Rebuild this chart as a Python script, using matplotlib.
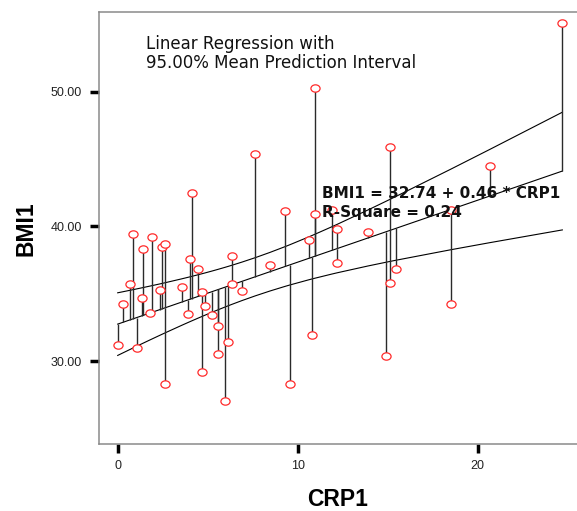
import numpy as np
import matplotlib
matplotlib.use("Agg")
import matplotlib.pyplot as plt
from matplotlib.path import Path
from matplotlib.transforms import Affine2D

# ---- data ----
crp1 = [0.0, 0.3, 0.7, 0.87, 1.06, 1.33, 1.42, 1.8, 1.9, 2.35, 2.44, 2.65, 2.63,
        3.56, 3.92, 4.0, 4.1, 4.48, 4.67, 4.67, 4.85, 5.22, 5.59, 5.59, 5.96,
        6.15, 6.33, 6.33, 6.9, 7.63, 8.46, 9.3, 9.57, 10.6, 10.78, 10.94, 10.96,
        11.89, 12.2, 12.2, 13.9, 14.89, 15.13, 15.13, 15.44, 18.5, 18.5, 20.68, 24.7]
bmi1 = [31.2, 34.2, 35.7, 39.4, 31.0, 34.7, 38.3, 33.6, 39.2, 35.3, 38.5, 38.7, 28.3,
        35.5, 33.5, 37.6, 42.5, 36.8, 35.1, 29.2, 34.1, 33.4, 32.6, 30.5, 27.0,
        31.4, 37.8, 35.7, 35.2, 45.35, 37.1, 41.1, 28.3, 39.0, 31.9, 40.9, 50.3,
        41.2, 39.8, 37.3, 39.6, 30.4, 45.9, 35.8, 36.85, 41.2, 34.2, 44.5, 55.1]
intercept = 32.74
slope = 0.46
r_square = 0.24
t_crit = 2.012
x_ticks = [0, 10, 20]
y_ticks = [30, 40, 50]
y_tick_labels = ["30.00", "40.00", "50.00"]

W, H = 577, 511
fig = plt.figure(figsize=(W / 100, H / 100), dpi=100)
fig.patch.set_facecolor("white")

def fx(px):
    return px / W

def fy(py):
    return 1 - py / H

ax = fig.add_axes([fx(99), fy(444), (580 - 99) / W, (444 - 12) / H])
ax.set_xlim(-1.039, 25.68)
ax.set_ylim(23.84, 55.91)

x = np.array(crp1)
y = np.array(bmi1)
fit = intercept + slope * x

# mean prediction interval
n = len(x)
resid = y - fit
s = np.sqrt(np.sum(resid ** 2) / (n - 2))
xbar = x.mean()
sxx = np.sum((x - xbar) ** 2)
xs = np.unique(x)
ys = intercept + slope * xs
hw = t_crit * s * np.sqrt(1.0 / n + (xs - xbar) ** 2 / sxx)

ax.plot(xs, ys, color="black", lw=0.8, zorder=2)
ax.plot(xs, ys + hw, color="black", lw=0.8, zorder=2)
ax.plot(xs, ys - hw, color="black", lw=0.8, zorder=2)

ax.vlines(x, np.minimum(y, fit), np.maximum(y, fit), color="#2a2a2a", lw=1.0, zorder=2)

ell = Path.unit_circle().transformed(Affine2D().scale(1.0, 0.8))
ax.plot(x, y, linestyle="none", marker=ell, markersize=6.6,
        markerfacecolor="white", markeredgecolor="#ff2a2a", markeredgewidth=0.9,
        zorder=3)

for side in ["left", "bottom", "top", "right"]:
    ax.spines[side].set_color("#8a8a8a")
    ax.spines[side].set_linewidth(1.1)

ax.set_xticks(x_ticks)
ax.set_xticklabels([str(v) for v in x_ticks])
ax.set_yticks(y_ticks)
ax.set_yticklabels(y_tick_labels)
ax.tick_params(axis="both", direction="out", length=6.8, width=2.5, color="black",
               labelsize=9, labelcolor="#222222")
ax.tick_params(axis="x", pad=5)
ax.tick_params(axis="y", pad=5.5)
for lab in ax.get_xticklabels() + ax.get_yticklabels():
    lab.set_family("Liberation Sans")

# text annotations
fig.text(fx(146), fy(49), "Linear Regression with", fontsize=12,
         family="DejaVu Sans", va="baseline", ha="left", color="#111111")
fig.text(fx(146), fy(68), "95.00% Mean Prediction Interval", fontsize=12,
         family="DejaVu Sans", va="baseline", ha="left", color="#111111")

fig.text(fx(321.5), fy(197.7), f"BMI1 = {intercept:.2f} + {slope:.2f} * CRP1", fontsize=11,
         family="DejaVu Sans", fontweight="bold", va="baseline", ha="left", color="#111111")
fig.text(fx(321.5), fy(217.3), f"R-Square = {r_square:.2f}", fontsize=11,
         family="DejaVu Sans", fontweight="bold", va="baseline", ha="left", color="#111111")

# axis labels
fig.text(fx(337.7), fy(506), "CRP1", fontsize=16.5, family="Liberation Sans",
         fontweight="bold", ha="center", va="baseline")
fig.text(fx(26), fy(229), "BMI1", fontsize=16.5, family="Liberation Sans",
         fontweight="bold", ha="center", va="center", rotation=90)

fig.savefig("out.png", dpi=100, facecolor="white")
